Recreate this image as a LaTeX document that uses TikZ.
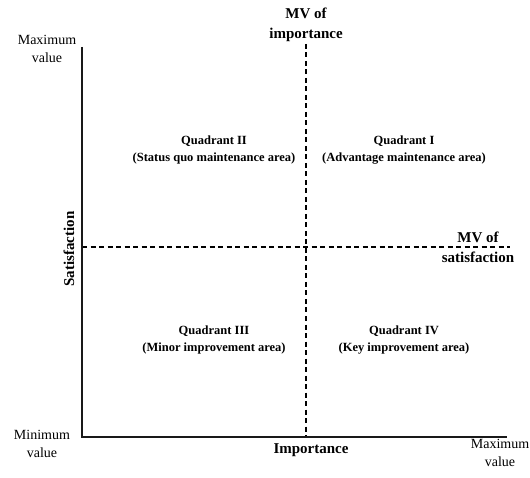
\documentclass[tikz,border=0pt]{standalone}
\usepackage{fontspec}
\setmainfont{Liberation Serif}
\begin{document}
\begin{tikzpicture}[x=1pt,y=-1pt,
  axis/.style={line width=2pt, draw=black!90},
  mvline/.style={line width=1.1pt, dash pattern=on 5pt off 3.5pt},
  endlbl/.style={font=\fontsize{14}{18.5}\selectfont, align=center, inner sep=0pt},
  axlbl/.style={font=\fontsize{15}{20}\selectfont\bfseries, align=center, inner sep=0pt},
  quad/.style={font=\fontsize{12.5}{17}\selectfont\bfseries, align=center, inner sep=0pt, text depth=3.5pt}]
\useasboundingbox (0,0) rectangle (530,478);
\coordinate (O) at (82,437);
\coordinate (Ytop) at (82,47);
\coordinate (Xend) at (507,437);
\coordinate (Vtop) at (306,44);
\coordinate (Vbot) at (306,437);
\coordinate (Hl) at (82,247);
\coordinate (Hr) at (510,247);
\draw[mvline] (Vtop) -- (Vbot);
\draw[mvline] (Hl) -- (Hr);
\draw[axis] (Ytop) -- (O) -- (Xend);
\node[endlbl] (maxy) at (47,49) {Maximum\\value};
\node[endlbl] (miny) at (42,444) {Minimum\\value};
\node[endlbl] (maxx) at (500,453) {Maximum\\value};
\node[axlbl] (mvi) at (306,25) {MV of\\importance};
\node[axlbl] (mvs) at (478,247) {MV of\\satisfaction};
\node[axlbl] (imp) at (311,450) {Importance};
\node[axlbl, rotate=90] (sat) at (69,249) {Satisfaction};
\node[quad] (q2) at (214,150.5) {Quadrant II\\(Status quo maintenance area)};
\node[quad] (q1) at (404,150.5) {Quadrant I\\(Advantage maintenance area)};
\node[quad] (q3) at (214,340.5) {Quadrant III\\(Minor improvement area)};
\node[quad] (q4) at (404,340.5) {Quadrant IV\\(Key improvement area)};
\end{tikzpicture}
\end{document}
